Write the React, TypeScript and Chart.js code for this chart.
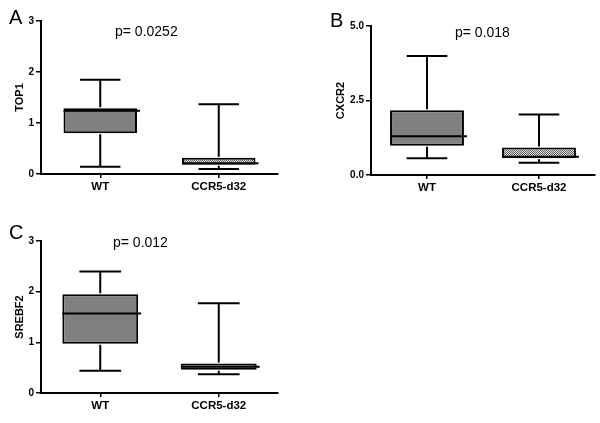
import React, { useEffect, useRef } from 'react';
import { Chart, registerables } from 'chart.js';

Chart.register(...registerables);

const FONT = '"Liberation Sans", Arial, Helvetica, sans-serif';

const categories = ['WT', 'CCR5-d32'];

// Panel A: TOP1
const top1Min = [0.14, 0.1];
const top1Q1 = [0.8, 0.18];
const top1Median = [1.24, 0.21];
const top1Q3 = [1.29, 0.32];
const top1Max = [1.85, 1.37];

// Panel B: CXCR2
const cxcr2Min = [0.56, 0.41];
const cxcr2Q1 = [0.98, 0.56];
const cxcr2Median = [1.3, 0.61];
const cxcr2Q3 = [2.17, 0.92];
const cxcr2Max = [3.99, 2.03];

// Panel C: SREBF2
const srebf2Min = [0.44, 0.37];
const srebf2Q1 = [0.97, 0.46];
const srebf2Median = [1.57, 0.52];
const srebf2Q3 = [1.95, 0.58];
const srebf2Max = [2.4, 1.77];

const pValues = ['p= 0.0252', 'p= 0.018', 'p= 0.012'];
const panelLetters = ['A', 'B', 'C'];
const yTitles = ['TOP1', 'CXCR2', 'SREBF2'];

type PanelProps = {
  min: number[];
  q1: number[];
  median: number[];
  q3: number[];
  max: number[];
  yMax: number;
  step: number;
  decimals: number;
  yTitle: string;
  letter: string;
  pText: string;
  left: number;
  top: number;
  width: number;
  height: number;
  padTop: number;
  padRight: number;
  yWidth: number;
  xHeight: number;
  titlePad: number;
  barPct: number;
  letterPos: [number, number];
  pPos: [number, number];
};

function makePattern(): CanvasPattern | string {
  const c = document.createElement('canvas');
  c.width = 2;
  c.height = 2;
  const g = c.getContext('2d');
  if (!g) return '#a8a8a8';
  g.fillStyle = '#dcdcdc';
  g.fillRect(0, 0, 2, 2);
  g.fillStyle = '#606060';
  g.fillRect(0, 0, 1, 1);
  g.fillRect(1, 1, 1, 1);
  const ctx = document.createElement('canvas').getContext('2d');
  const p = ctx ? ctx.createPattern(c, 'repeat') : null;
  return p || '#a8a8a8';
}

function Panel(props: PanelProps) {
  const ref = useRef<HTMLCanvasElement | null>(null);

  useEffect(() => {
    if (!ref.current) return;
    const p = props;
    const boxPlugin = {
      id: 'boxWhiskers',
      afterDatasetsDraw(chart: any) {
        const ctx = chart.ctx;
        const yScale = chart.scales.y;
        const meta = chart.getDatasetMeta(0);
        ctx.save();
        ctx.strokeStyle = '#000';
        ctx.lineWidth = 2;
        meta.data.forEach((bar: any, i: number) => {
          const { x, width } = bar.getProps(['x', 'width'], true);
          const yMaxP = yScale.getPixelForValue(p.max[i]);
          const yMinP = yScale.getPixelForValue(p.min[i]);
          const yQ1 = yScale.getPixelForValue(p.q1[i]);
          const yQ3 = yScale.getPixelForValue(p.q3[i]);
          const yMed = yScale.getPixelForValue(p.median[i]);
          const capW = width * 0.55;
          ctx.beginPath();
          ctx.moveTo(x, yMaxP);
          ctx.lineTo(x, yQ3 - 1);
          ctx.moveTo(x, yQ1 + 1);
          ctx.lineTo(x, yMinP);
          ctx.moveTo(x - capW / 2, yMaxP);
          ctx.lineTo(x + capW / 2, yMaxP);
          ctx.moveTo(x - capW / 2, yMinP);
          ctx.lineTo(x + capW / 2, yMinP);
          ctx.stroke();
          ctx.beginPath();
          ctx.moveTo(x - width / 2, yMed);
          ctx.lineTo(x + width / 2 + 3, yMed);
          ctx.stroke();
        });
        ctx.restore();
      },
      afterDraw(chart: any) {
        const ctx = chart.ctx;
        ctx.save();
        ctx.fillStyle = '#000';
        ctx.textBaseline = 'alphabetic';
        ctx.textAlign = 'left';
        ctx.font = `20px ${FONT}`;
        ctx.fillText(p.letter, p.letterPos[0], p.letterPos[1]);
        ctx.font = `14px ${FONT}`;
        ctx.fillText(p.pText, p.pPos[0], p.pPos[1]);
        ctx.restore();
      },
    };

    const chart = new Chart(ref.current, {
      type: 'bar',
      data: {
        labels: categories,
        datasets: [
          {
            data: p.q1.map((v, i) => [v, p.q3[i]]) as any,
            backgroundColor: ['#808080', makePattern()] as any,
            borderColor: '#000',
            borderWidth: 2,
            borderSkipped: false,
            barPercentage: p.barPct,
            categoryPercentage: 1,
          },
        ],
      },
      options: {
        responsive: false,
        animation: false,
        devicePixelRatio: 1,
        layout: { padding: { top: p.padTop, right: p.padRight, bottom: 0, left: 0 } },
        plugins: { legend: { display: false }, tooltip: { enabled: false } },
        scales: {
          x: {
            offset: true,
            ticks: { font: { family: FONT, size: 11.5, weight: 'bold' }, color: '#000', padding: 2 },
            grid: { offset: false, drawOnChartArea: false, drawTicks: true, tickLength: 4, color: '#000', lineWidth: 1.5 },
            border: { color: '#000', width: 2 },
            afterFit: (s: any) => {
              s.height = p.xHeight;
              s.paddingLeft = 0;
              s.paddingRight = 0;
            },
          },
          y: {
            min: 0,
            max: p.yMax,
            ticks: {
              stepSize: p.step,
              callback: (v: any) => Number(v).toFixed(p.decimals),
              font: { family: FONT, size: 10, weight: 'bold' },
              color: '#000',
              padding: 2,
            },
            grid: { drawOnChartArea: false, drawTicks: true, tickLength: 5, color: '#000', lineWidth: 1.5 },
            border: { color: '#000', width: 2 },
            title: {
              display: true,
              text: p.yTitle,
              color: '#000',
              font: { family: FONT, size: 11, weight: 'bold' },
              padding: { top: p.titlePad, bottom: 0 },
            },
            afterFit: (s: any) => {
              s.width = p.yWidth;
              s.paddingTop = 0;
              s.paddingBottom = 0;
            },
          },
        },
      } as any,
      plugins: [boxPlugin],
    });
    return () => chart.destroy();
  }, []);

  return (
    <canvas
      ref={ref}
      width={props.width}
      height={props.height}
      style={{ position: 'absolute', left: props.left, top: props.top, width: props.width, height: props.height }}
    />
  );
}

export default function App() {
  return (
    <div style={{ position: 'fixed', left: 0, top: 0, width: 600, height: 423, background: '#fff', overflow: 'hidden' }}>
      <Panel
        min={top1Min} q1={top1Q1} median={top1Median} q3={top1Q3} max={top1Max}
        yMax={3} step={1} decimals={0}
        yTitle={yTitles[0]} letter={panelLetters[0]} pText={pValues[0]}
        left={0} top={0} width={300} height={200}
        padTop={21} padRight={22} yWidth={41} xHeight={26} titlePad={13}
        barPct={0.62} letterPos={[9, 24]} pPos={[115, 36]}
      />
      <Panel
        min={cxcr2Min} q1={cxcr2Q1} median={cxcr2Median} q3={cxcr2Q3} max={cxcr2Max}
        yMax={5} step={2.5} decimals={1}
        yTitle={yTitles[1]} letter={panelLetters[1]} pText={pValues[1]}
        left={300} top={0} width={300} height={200}
        padTop={26} padRight={5} yWidth={71} xHeight={25} titlePad={34}
        barPct={0.66} letterPos={[30, 27]} pPos={[155, 37]}
      />
      <Panel
        min={srebf2Min} q1={srebf2Q1} median={srebf2Median} q3={srebf2Q3} max={srebf2Max}
        yMax={3} step={1} decimals={0}
        yTitle={yTitles[2]} letter={panelLetters[2]} pText={pValues[2]}
        left={0} top={210} width={300} height={213}
        padTop={31} padRight={22} yWidth={41} xHeight={30} titlePad={13}
        barPct={0.64} letterPos={[9, 29]} pPos={[113, 37]}
      />
    </div>
  );
}
